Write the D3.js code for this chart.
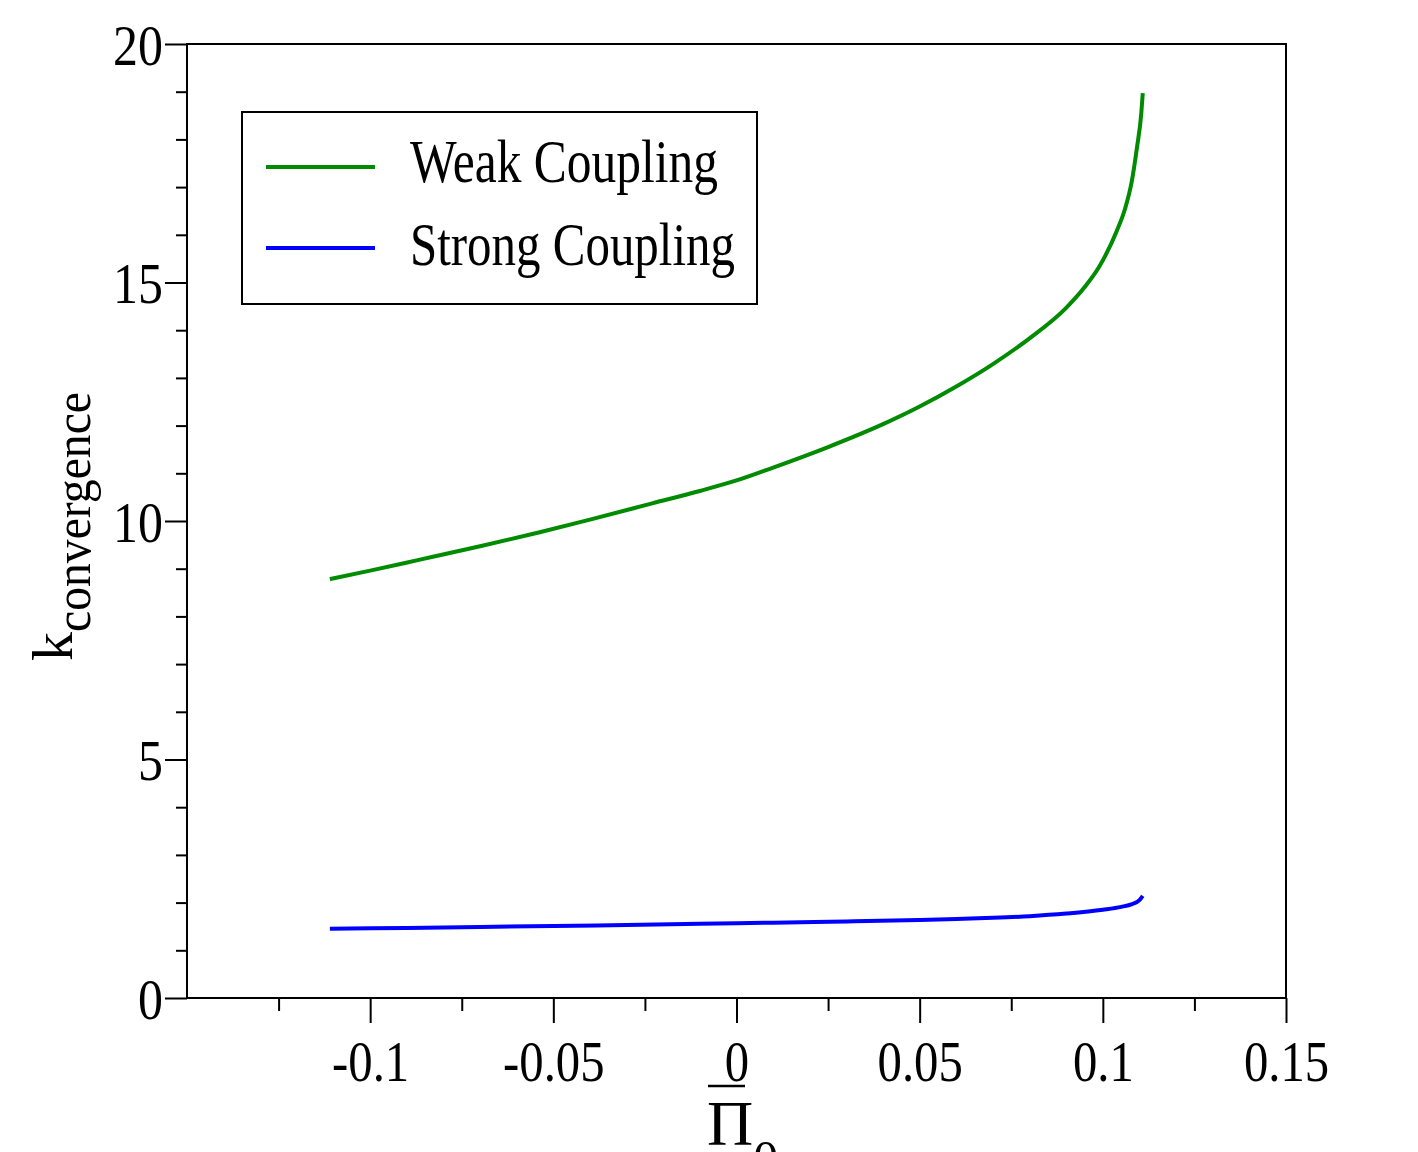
<!DOCTYPE html>
<html>
<head>
<meta charset="utf-8">
<script src="https://cdn.jsdelivr.net/npm/d3@7"></script>
<style>
  body { margin: 0; background: #fff; }
  text { font-family: "Liberation Serif", "Times New Roman", serif; fill: #000; }
</style>
</head>
<body>
<div id="chart"></div>
<script>
// values
const piValues = [-0.111, -0.1, -0.087, -0.07, -0.054, -0.04, -0.023, -0.01, 0, 0.01, 0.025, 0.04, 0.05, 0.06, 0.07, 0.08, 0.09, 0.095, 0.099, 0.1038, 0.106, 0.1079, 0.1093, 0.1105, 0.1109];
const weakK = [8.78, 8.96, 9.18, 9.47, 9.76, 10.03, 10.37, 10.63, 10.85, 11.12, 11.55, 12.03, 12.4, 12.82, 13.29, 13.83, 14.47, 14.9, 15.33, 16.08, 16.53, 17.12, 17.82, 18.55, 18.97];
const strongPi = [-0.111, -0.09, -0.07, -0.05, -0.03, -0.01, 0.01, 0.03, 0.05, 0.06, 0.07, 0.08, 0.09, 0.1, 0.105, 0.108, 0.11, 0.1109];
const strongK = [1.45, 1.47, 1.49, 1.51, 1.53, 1.555, 1.58, 1.605, 1.635, 1.655, 1.68, 1.715, 1.77, 1.85, 1.91, 1.97, 2.05, 2.14];

const xTicks = [-0.1, -0.05, 0, 0.05, 0.1, 0.15];
const xTickLabels = ["-0.1", "-0.05", "0", "0.05", "0.1", "0.15"];
const xMinor = [-0.125, -0.075, -0.025, 0.025, 0.075, 0.125];
const yTicks = [0, 5, 10, 15, 20];
const yTickLabels = ["0", "5", "10", "15", "20"];
const yMinor = [1, 2, 3, 4, 6, 7, 8, 9, 11, 12, 13, 14, 16, 17, 18, 19];

const seriesNames = ["Weak Coupling", "Strong Coupling"];
const seriesColors = ["#008b00", "#0000ff"];

const w = 1418, h = 1152;
const plotLeft = 187, plotRight = 1286, plotTop = 44, plotBottom = 998;

const xScale = d3.scaleLinear().domain([-0.15, 0.15]).range([plotLeft, plotRight]);
const yScale = d3.scaleLinear().domain([0, 20]).range([plotBottom, plotTop]);

const svg = d3.select("#chart").append("svg")
  .attr("width", w).attr("height", h);

// curves
const weak = piValues.map((p, i) => [p, weakK[i]]);
const strong = strongPi.map((p, i) => [p, strongK[i]]);
const line = d3.line()
  .x(d => xScale(d[0]))
  .y(d => yScale(d[1]))
  .curve(d3.curveMonotoneX);

[weak, strong].forEach((data, i) => {
  svg.append("path")
     .datum(data)
     .attr("fill", "none")
     .attr("stroke", seriesColors[i])
     .attr("stroke-width", 4)
     .attr("d", line);
});

// axes
const xAxis = d3.axisBottom(xScale).tickValues(xTicks)
  .tickFormat((d, i) => xTickLabels[i]).tickSize(25).tickPadding(17);
const xAxisMinor = d3.axisBottom(xScale).tickValues(xMinor)
  .tickFormat("").tickSize(13);
const yAxis = d3.axisLeft(yScale).tickValues(yTicks)
  .tickFormat((d, i) => yTickLabels[i]).tickSize(22).tickPadding(6);
const yAxisMinor = d3.axisLeft(yScale).tickValues(yMinor)
  .tickFormat("").tickSize(11);

const gx = svg.append("g").attr("transform", "translate(0," + plotBottom + ")").call(xAxis);
svg.append("g").attr("transform", "translate(0," + plotBottom + ")").call(xAxisMinor);
const gy = svg.append("g").attr("transform", "translate(" + plotLeft + ",0)").call(yAxis);
svg.append("g").attr("transform", "translate(" + plotLeft + ",0)").call(yAxisMinor);

svg.selectAll(".domain").remove();
svg.selectAll(".tick line").attr("stroke", "#000").attr("stroke-width", 2);
svg.selectAll("g").attr("font-family", null).attr("font-size", null);

gx.selectAll(".tick text")
  .style("font-size", "58px")
  .attr("transform", "scale(0.84,1)");
gy.selectAll(".tick text")
  .style("font-size", "58px")
  .attr("dy", "0.35em")
  .attr("transform", "scale(0.86,1)");

// frame
svg.append("rect")
   .attr("x", plotLeft).attr("y", plotTop)
   .attr("width", plotRight - plotLeft).attr("height", plotBottom - plotTop)
   .attr("fill", "none").attr("stroke", "#000").attr("stroke-width", 2);

// legend
const legend = svg.append("g");
legend.append("rect")
  .attr("x", 242).attr("y", 112).attr("width", 515).attr("height", 192)
  .attr("fill", "#fff").attr("stroke", "#000").attr("stroke-width", 2);
const legendRows = [{ y: 167, base: 182, len: 308 }, { y: 248, base: 265, len: 325 }];
legendRows.forEach((r, i) => {
  legend.append("line")
    .attr("x1", 266).attr("x2", 375).attr("y1", r.y).attr("y2", r.y)
    .attr("stroke", seriesColors[i]).attr("stroke-width", 4);
  legend.append("text")
    .attr("x", 410).attr("y", r.base)
    .style("font-size", "62px")
    .attr("textLength", r.len)
    .attr("lengthAdjust", "spacingAndGlyphs")
    .text(seriesNames[i]);
});

// y label: k_convergence
const yLab = svg.append("text")
  .attr("transform", "translate(72,661) rotate(-90)");
yLab.append("tspan").style("font-size", "58px").text("k");
yLab.append("tspan").attr("dy", 18).style("font-size", "50px")
  .attr("textLength", 240).attr("lengthAdjust", "spacingAndGlyphs")
  .text("convergence");

// x label: overbar Pi with subscript 0
const xLab = svg.append("g");
xLab.append("text")
  .attr("x", 707).attr("y", 1145)
  .style("font-size", "64px")
  .text("\u03A0")
  .append("tspan").attr("dy", 30).style("font-size", "50px").text("0");
xLab.append("line")
  .attr("x1", 708).attr("x2", 745).attr("y1", 1086).attr("y2", 1086)
  .attr("stroke", "#000").attr("stroke-width", 2.5);
</script>
</body>
</html>
